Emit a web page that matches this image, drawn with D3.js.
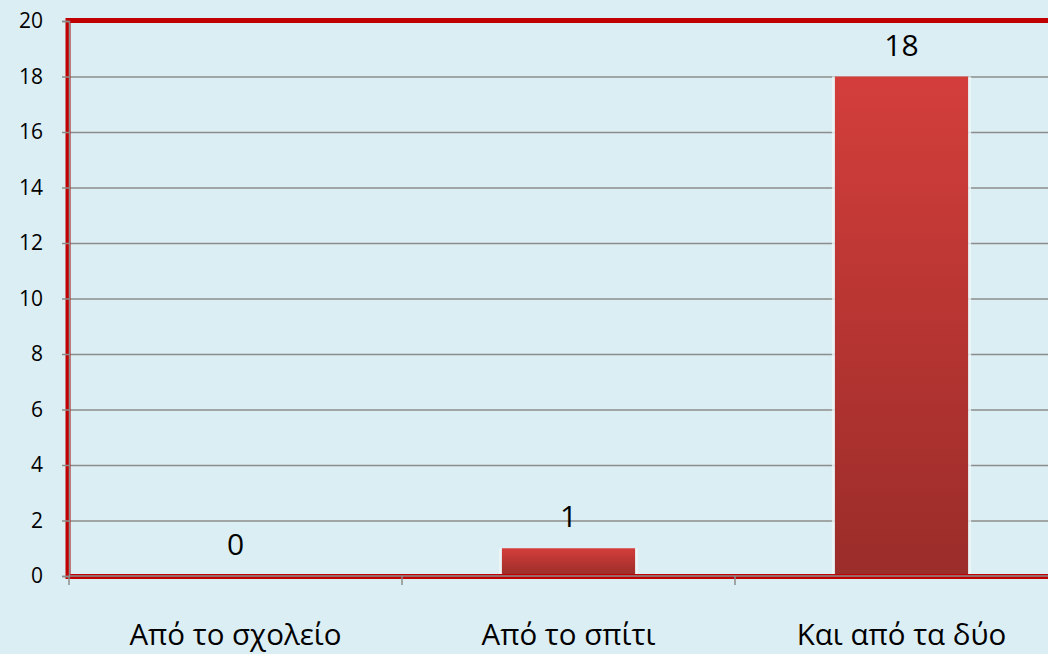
<!DOCTYPE html>
<html>
<head>
<meta charset="utf-8">
<script src="https://cdn.jsdelivr.net/npm/d3@7"></script>
<style>
  body { margin: 0; background: #dbeef4; }
  svg { display: block; font-family: "Open Sans", "Noto Sans", sans-serif; }
</style>
</head>
<body>
<svg width="1048" height="654"></svg>
<script>
var categories = ["Από το σχολείο", "Από το σπίτι", "Και από τα δύο"];
var values = [0, 1, 18];
var yTicks = [0, 2, 4, 6, 8, 10, 12, 14, 16, 18, 20];

var svg = d3.select("svg");
var mLeft = 69, mRight = 1068, mTop = 21, mBottom = 576;

var x = d3.scaleBand().domain(categories).range([mLeft, mRight]).paddingInner(0.6).paddingOuter(0.3);
var y = d3.scaleLinear().domain([0, 20]).range([mBottom, mTop]);

svg.append("rect").attr("width", 1048).attr("height", 654).attr("fill", "#dbeef4");

var defs = svg.append("defs");
var grad = defs.append("linearGradient").attr("id", "barGrad")
    .attr("x1", 0).attr("y1", 0).attr("x2", 0).attr("y2", 1);
grad.append("stop").attr("offset", "0%").attr("stop-color", "#d33e3b");
grad.append("stop").attr("offset", "100%").attr("stop-color", "#9a2c29");

// gridlines
svg.append("g")
    .selectAll("line")
    .data(yTicks.slice(1))
    .enter().append("line")
    .attr("x1", mLeft).attr("x2", 1048)
    .attr("y1", d => y(d) + 0.5).attr("y2", d => y(d) + 0.5)
    .attr("stroke", "#8c8c8c").attr("stroke-width", 1.5);

// bars
var bars = svg.append("g").selectAll("g")
    .data(values)
    .enter().append("g");

bars.append("rect")
    .attr("x", (d, i) => x(categories[i]) - 3)
    .attr("y", d => y(d))
    .attr("width", x.bandwidth() + 6)
    .attr("height", d => mBottom - y(d))
    .attr("fill", "#eef6f8")
    .attr("opacity", d => d > 0 ? 0.8 : 0);

bars.append("rect")
    .attr("x", (d, i) => x(categories[i]))
    .attr("y", d => y(d))
    .attr("width", x.bandwidth())
    .attr("height", d => mBottom - y(d))
    .attr("fill", "url(#barGrad)");

// value labels
bars.append("text")
    .attr("x", (d, i) => x(categories[i]) + x.bandwidth() / 2)
    .attr("y", d => y(d) - 21)
    .attr("text-anchor", "middle")
    .attr("font-size", 30)
    .attr("fill", "#000")
    .text(d => d);

// plot border
svg.append("rect")
    .attr("x", mLeft - 1).attr("y", mTop - 0.5)
    .attr("width", 1100).attr("height", mBottom - mTop + 1)
    .attr("fill", "none")
    .attr("stroke", "#c00000")
    .attr("stroke-width", 5);

// y axis
var yAxis = svg.append("g")
    .attr("transform", "translate(" + mLeft + ",0)")
    .call(d3.axisLeft(y).tickValues(yTicks).tickSize(7).tickPadding(19));
yAxis.select(".domain").attr("stroke", "#8c8c8c").attr("stroke-width", 1.5);
yAxis.selectAll(".tick line").attr("stroke", "#8c8c8c").attr("stroke-width", 1.5);
yAxis.selectAll("text").attr("font-size", 21).attr("fill", "#000").attr("font-family", "Open Sans");

// x axis
var xAxis = svg.append("g")
    .attr("transform", "translate(0," + mBottom + ")")
    .call(d3.axisBottom(x).tickSize(0).tickPadding(48));
xAxis.select(".domain").remove();
xAxis.selectAll("text").attr("font-size", 29.5).attr("fill", "#000").attr("font-family", "Open Sans");

svg.append("line")
    .attr("x1", mLeft).attr("x2", 1048).attr("y1", mBottom).attr("y2", mBottom)
    .attr("stroke", "#8c8c8c").attr("stroke-width", 1.5);

var bounds = [0, 1, 2, 3].map(i => mLeft + i * (mRight - mLeft) / 3);
svg.append("g").selectAll("line")
    .data(bounds)
    .enter().append("line")
    .attr("x1", d => d).attr("x2", d => d)
    .attr("y1", mBottom).attr("y2", mBottom + 9)
    .attr("stroke", "#8c8c8c").attr("stroke-width", 1.5);
</script>
</body>
</html>
